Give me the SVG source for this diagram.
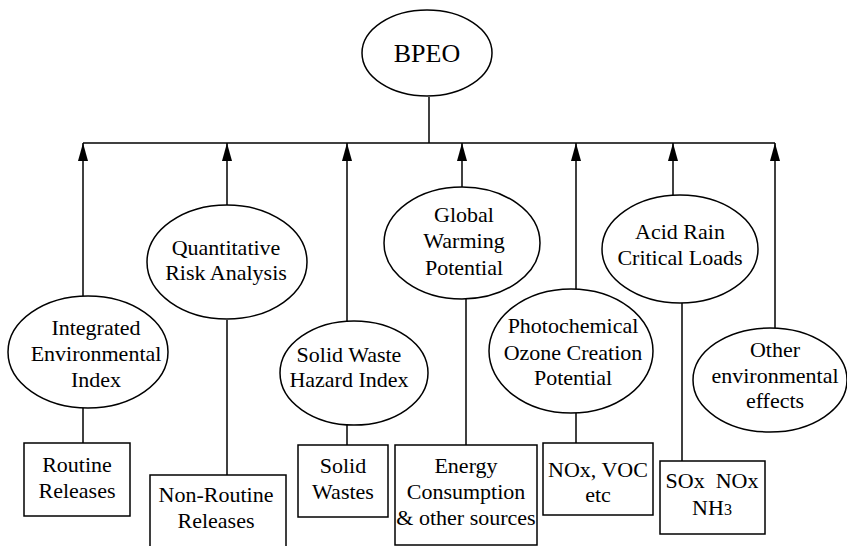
<svg xmlns="http://www.w3.org/2000/svg" width="847" height="546" viewBox="0 0 847 546">
<defs>
<style>
.n{fill:#fff;stroke:#000;stroke-width:1.5}
.c line{stroke:#000;stroke-width:1.5;fill:none}
text{font-family:"Liberation Serif","Times New Roman",serif;font-size:22px;text-anchor:middle;fill:#000}
</style>
<marker id="ah" markerUnits="userSpaceOnUse" markerWidth="12" markerHeight="20" viewBox="0 0 12 20" refX="6" refY="0" orient="0">
<path d="M6,0 L11,18 L1,18 Z" fill="#000"/>
</marker>
</defs>
<rect width="847" height="546" fill="#fff"/>
<g class="c" id="connectors">
<line x1="429" y1="97" x2="429" y2="143"/>
<line x1="83" y1="143" x2="775" y2="143"/>
<line x1="83" y1="296" x2="83" y2="143" marker-end="url(#ah)"/>
<line x1="227" y1="205" x2="227" y2="143" marker-end="url(#ah)"/>
<line x1="347" y1="321" x2="347" y2="143" marker-end="url(#ah)"/>
<line x1="462" y1="187" x2="462" y2="143" marker-end="url(#ah)"/>
<line x1="576" y1="289" x2="576" y2="143" marker-end="url(#ah)"/>
<line x1="673" y1="195" x2="673" y2="143" marker-end="url(#ah)"/>
<line x1="775" y1="328" x2="775" y2="143" marker-end="url(#ah)"/>
<line x1="83" y1="408" x2="83" y2="443"/>
<line x1="227" y1="320" x2="227" y2="475"/>
<line x1="347" y1="425" x2="347" y2="445"/>
<line x1="466" y1="299" x2="466" y2="445"/>
<line x1="576" y1="413" x2="576" y2="443"/>
<line x1="682" y1="303" x2="682" y2="461"/>
</g>
<g id="bpeo"><ellipse class="n" cx="427" cy="53" rx="65" ry="43"/><text x="427" y="62" style="font-size:26px">BPEO</text></g>
<g id="iei"><ellipse class="n" cx="88" cy="352" rx="80" ry="56"/><text x="96" y="335">Integrated</text><text x="96" y="361">Environmental</text><text x="96" y="387">Index</text></g>
<g id="qra"><ellipse class="n" cx="227" cy="262" rx="80" ry="57"/><text x="226" y="255">Quantitative</text><text x="226" y="280">Risk Analysis</text></g>
<g id="swhi"><ellipse class="n" cx="354" cy="373" rx="74" ry="52"/><text x="349" y="362">Solid Waste</text><text x="349" y="387">Hazard Index</text></g>
<g id="gwp"><ellipse class="n" cx="462" cy="243" rx="78" ry="56"/><text x="464" y="222">Global</text><text x="464" y="248">Warming</text><text x="464" y="275">Potential</text></g>
<g id="pocp"><ellipse class="n" cx="571" cy="351" rx="82" ry="62"/><text x="573" y="333">Photochemical</text><text x="573" y="360">Ozone Creation</text><text x="573" y="385">Potential</text></g>
<g id="arcl"><ellipse class="n" cx="680" cy="249" rx="78" ry="54"/><text x="680" y="239">Acid Rain</text><text x="680" y="265">Critical Loads</text></g>
<g id="oee"><ellipse class="n" cx="770" cy="380" rx="77" ry="52"/><text x="775" y="357">Other</text><text x="775" y="383">environmental</text><text x="775" y="408">effects</text></g>
<g id="rr"><rect class="n" x="24" y="443" width="106" height="73"/><text x="77" y="472">Routine</text><text x="77" y="498">Releases</text></g>
<g id="nrr"><rect class="n" x="150" y="475" width="136" height="75"/><text x="216" y="502">Non-Routine</text><text x="216" y="528">Releases</text></g>
<g id="sw"><rect class="n" x="298" y="445" width="90" height="72"/><text x="343" y="473">Solid</text><text x="343" y="499">Wastes</text></g>
<g id="ec"><rect class="n" x="395" y="445" width="142" height="100"/><text x="466" y="473">Energy</text><text x="466" y="499">Consumption</text><text x="466" y="525">&amp; other sources</text></g>
<g id="nox"><rect class="n" x="543" y="443" width="110" height="72"/><text x="598" y="477">NOx, VOC</text><text x="598" y="502">etc</text></g>
<g id="sox"><rect class="n" x="660" y="461" width="105" height="73"/><text x="712" y="488" xml:space="preserve">SOx  NOx</text><text x="712" y="515">NH<tspan style="font-size:16px">3</tspan></text></g>
</svg>
